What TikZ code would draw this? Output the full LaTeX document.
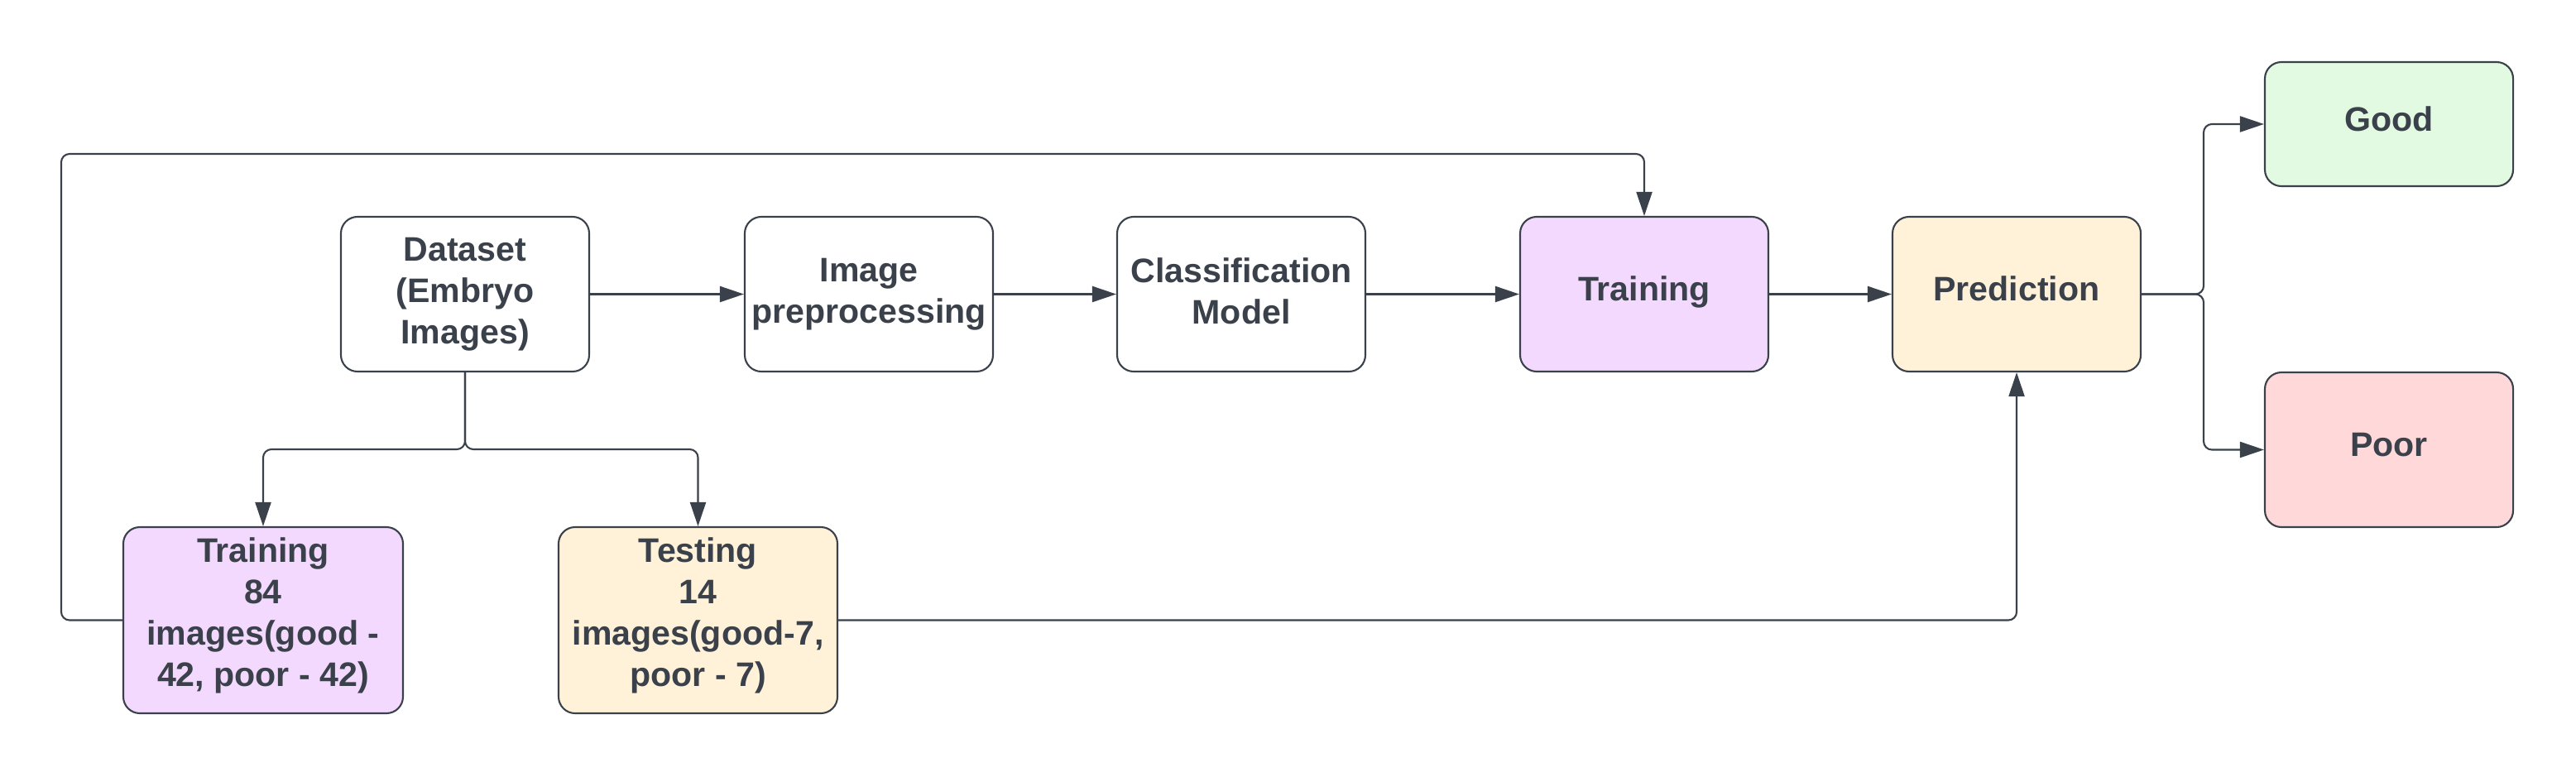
\documentclass[tikz,border=0pt]{standalone}
\usepackage{fontspec}
\setmainfont{Liberation Sans}
\usepackage{tikz}
\usetikzlibrary{arrows.meta}
\definecolor{ink}{HTML}{3A414A}
\definecolor{lilac}{HTML}{F3D9FD}
\definecolor{cream}{HTML}{FFF2D9}
\definecolor{mint}{HTML}{E2F9E2}
\definecolor{rose}{HTML}{FFD9DA}
\newcommand{\lift}[1]{\rule[-#1]{0pt}{0pt}}

\begin{document}
\begin{tikzpicture}[color=ink, line width=0.6pt,
		>={Triangle[length=0.29cm,width=0.19cm]},
		block/.style={draw, rounded corners=0.2cm, align=center, minimum width=3cm, minimum height=1.87cm, inner sep=2pt, font=\fontsize{11.7}{14.2}\selectfont\bfseries},
		single/.style={block, text height=0.30cm, text depth=0.14cm},
		link/.style={->, rounded corners=0.1cm}]
			\fill[white] (0,0) rectangle (31.13,-9.38);

			\node[block] (ds) at (5.62,-3.555) {Dataset\\(Embryo\\Images)};
			\node[block] (pre) at (10.50,-3.555) {Image\\preprocessing};
			\node[block] (cls) at (15.00,-3.555) {Classification\\Model\lift{0.08cm}};
			\node[single,fill=lilac] (tr) at (19.87,-3.555) {Training};
			\node[single,fill=cream] (pr) at (24.37,-3.555) {Prediction};

			\node[single,fill=mint,minimum height=1.5cm] (good) at (28.87,-1.50) {Good};
			\node[single,fill=rose] (poor) at (28.87,-5.435) {Poor};

			\node[block,fill=lilac,minimum width=3.38cm,minimum height=2.25cm] (trs) at (3.18,-7.495) {Training\\84\\images(good -\\42, poor - 42)\lift{0.2cm}};
			\node[block,fill=cream,minimum width=3.37cm,minimum height=2.25cm] (tes) at (8.435,-7.495) {Testing\\14\\images(good-7,\\poor - 7)\lift{0.2cm}};

			\coordinate (split) at (5.62,-5.43);
			\coordinate (loop) at (0.74,-1.86);
			\coordinate (fork) at (26.63,-3.555);

			\foreach \a/\b in {ds/pre, pre/cls, cls/tr, tr/pr}
			\draw[->] (\a) -- (\b);

			\draw[link] (ds.south) -- (split) -| (trs.north);
			\draw[link] (ds.south) -- (split) -| (tes.north);

			\draw[link] (trs.west) -| (loop) -| (tr.north);
			\draw[link] (tes.east) -| (pr.south);

			\draw[link] (pr.east) -- (fork) |- (good.west);
			\draw[link] (pr.east) -- (fork) |- (poor.west);
		\end{tikzpicture}
\end{document}
